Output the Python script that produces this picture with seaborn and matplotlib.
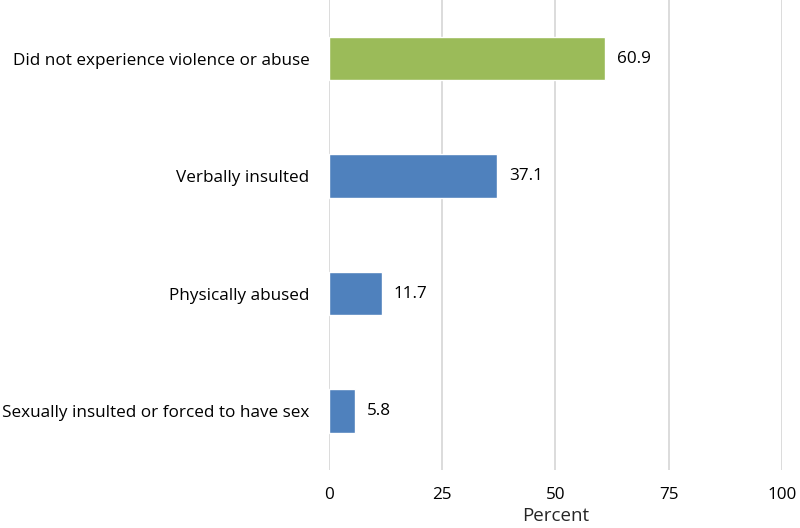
import matplotlib
matplotlib.use("Agg")
import matplotlib.pyplot as plt
import seaborn as sns
import pandas as pd

categories = ["Did not experience violence or abuse", "Verbally insulted",
              "Physically abused", "Sexually insulted or forced to have sex"]
values = [60.9, 37.1, 11.7, 5.8]
colors = ["#9BBB59", "#4F81BD", "#4F81BD", "#4F81BD"]

sns.set_style("white")
plt.rcParams["font.family"] = ["Open Sans", "DejaVu Sans"]

df = pd.DataFrame({"cat": categories, "val": values})

fig = plt.figure(figsize=(8, 5.28), dpi=100)
ax = fig.add_axes([0.411, 0.11, 0.5665, 0.89])
sns.barplot(data=df, x="val", y="cat", hue="cat", palette=colors, legend=False,
            width=0.37, ax=ax, saturation=1)

for i, v in enumerate(values):
    ax.text(v + 2.6, i, f"{v}", va="center", ha="left", fontsize=12.3, color="#000000")

ax.set_xlim(0, 100)
ax.set_ylim(3.5, -0.5)
ax.set_xticks([0, 25, 50, 75, 100])
ax.xaxis.grid(True, color="#D9D9D9", linewidth=1.3)
ax.set_axisbelow(True)
for s in ax.spines.values():
    s.set_visible(False)
ax.tick_params(axis="both", length=0, labelsize=12.3, colors="#000000")
ax.tick_params(axis="x", pad=12)
ax.tick_params(axis="y", pad=14)
ax.set_ylabel("")
ax.set_xlabel("Percent", fontsize=13.5, labelpad=3)

fig.savefig("out.png", dpi=100)
